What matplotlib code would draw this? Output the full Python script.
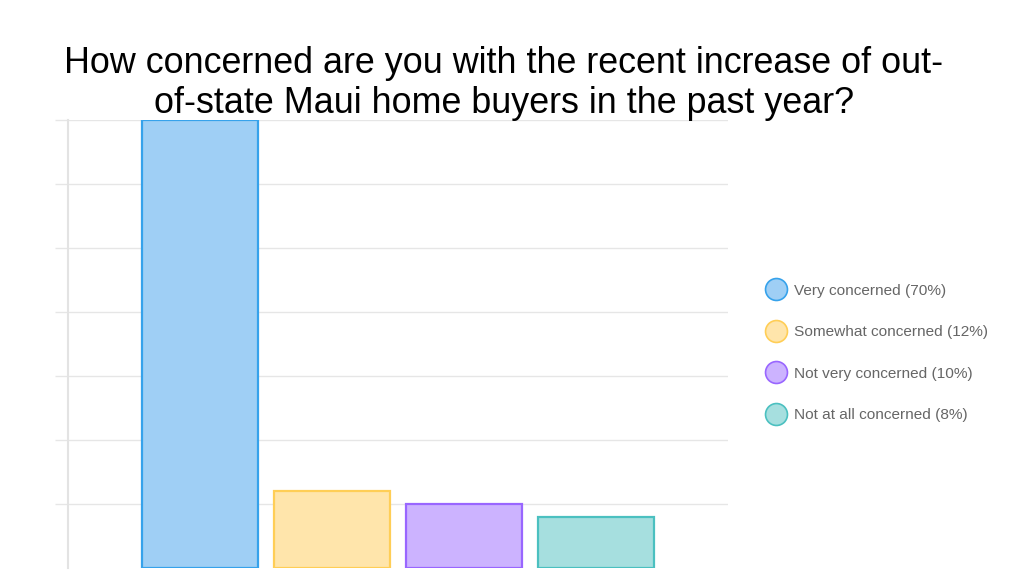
import matplotlib.pyplot as plt
from matplotlib.lines import Line2D

plt.rcParams['font.family'] = ['Liberation Sans', 'DejaVu Sans']

title = 'How concerned are you with the recent increase of out-\nof-state Maui home buyers in the past year?'
labels = ['Very concerned', 'Somewhat concerned', 'Not very concerned', 'Not at all concerned']
values = [70, 12, 10, 8]
fills = ['#9fcff5', '#ffe5ab', '#ccb3ff', '#a6dfdf']
edges = ['#36a2eb', '#ffce56', '#9966ff', '#4bc0c0']

fig = plt.figure(figsize=(10.24, 5.73), dpi=100)
fig.patch.set_facecolor('white')

# axes box in figure pixels: x 68..728, y 120..568 (from top)
W, H = 1024, 573
ax = fig.add_axes([68 / W, (H - 568) / H, (728 - 68) / W, (568 - 120) / H])

x = list(range(len(values)))
ax.bar(x, values, width=0.886, color=fills, edgecolor=edges, linewidth=1.6, zorder=3)

ax.set_xlim(-1, 4)
ax.set_ylim(0, 70)
ax.set_yticks(range(10, 71, 10))
ax.set_xticks([])
ax.tick_params(axis='y', length=9.4, width=1, color='#e6e6e6', labelleft=False)
ax.grid(axis='y', color='#e6e6e6', linewidth=1, zorder=0)

for s in ['top', 'right', 'bottom']:
    ax.spines[s].set_visible(False)
ax.spines['left'].set_color('#e3e3e3')
ax.spines['left'].set_linewidth(1.5)

fig.text(504 / W, 1 - 83.5 / H, title, ha='center', va='center', fontsize=25.8,
         color='black', linespacing=1.19)

handles = [Line2D([], [], linestyle='none', marker='o', markersize=15.8,
                  markerfacecolor=f, markeredgecolor=e, markeredgewidth=1.2)
           for f, e in zip(fills, edges)]
leg_labels = ['%s (%d%%)' % (l, v) for l, v in zip(labels, values)]
leg = fig.legend(handles, leg_labels, loc='center left',
                 bbox_to_anchor=(757.5 / W, 1 - 353 / H), frameon=False,
                 fontsize=11.1, labelspacing=1.78, handletextpad=0.35,
                 handlelength=1.6, borderaxespad=0)
for t in leg.get_texts():
    t.set_color('#666666')

plt.savefig('out.png', dpi=100, facecolor='white')
